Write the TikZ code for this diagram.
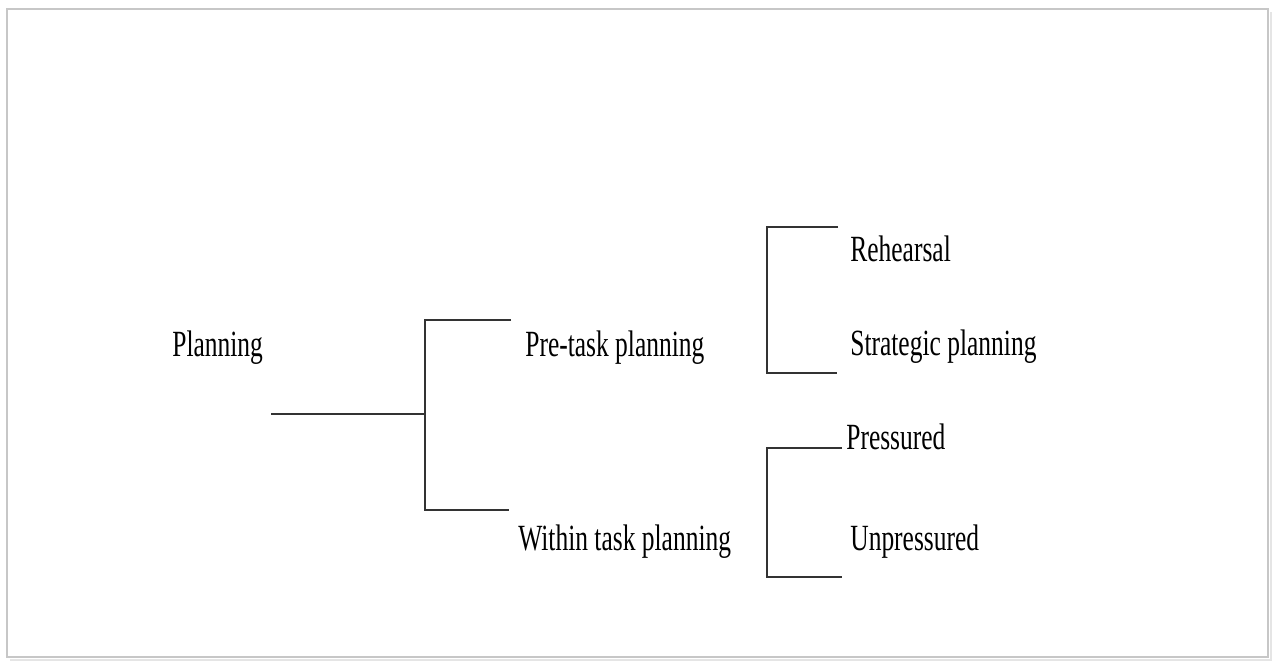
\documentclass[tikz,border=0pt]{standalone}
\usepackage{fontspec}
\setmainfont{Liberation Serif}
\usepackage{tikz}
\usetikzlibrary{positioning}
\tikzset{
  lbl/.style={anchor=base west, inner sep=0pt, font=\fontsize{14.5}{16}\selectfont, yscale=1.45, transform shape},
  branch/.style={line width=1.4pt, draw=black!80}
}
\newcommand{\fork}[4]{\draw[branch] (#1) -- (#1-|#2) -- (#3-|#2) -- (#3) node[coordinate] (#4) {}}

\begin{document}
\begin{tikzpicture}
    \useasboundingbox (0,0) rectangle (25.46,-13.22);
    \draw [draw=black!22, line width=1.6pt] (0.14,-0.18) rectangle (25.36,-13.14);
    \draw [draw=black!10, line width=1.2pt] (0.2,-13.2) -- (25.42,-13.2) -- (25.42,-0.24);
    % labels
    \node[lbl] (plan) at (3.44,-7.12) {Planning};
    \node[lbl] (pre) at (10.5,-7.12) {Pre-task planning};
    \node[lbl] (within) at (10.36,-11.0) {Within task planning};
    \node[lbl] (reh) at (17.0,-5.22) {Rehearsal};
    \node[lbl] (strat) at (17.0,-7.1) {Strategic planning};
    \node[lbl] (press) at (16.92,-8.98) {Pressured};
    \node[lbl] (unpress) at (17.0,-11.0) {Unpressured};
    % bracket ends
    \coordinate (root) at (5.42,-8.28);
    \coordinate (fork1) at (8.5,-8.28);
    \coordinate (preend) at (10.22,-6.4);
    \coordinate (withinend) at (10.18,-10.2);
    \coordinate (rehend) at (16.76,-4.54);
    \coordinate (stratend) at (16.74,-7.46);
    \coordinate (pressend) at (16.84,-8.96);
    \coordinate (unpressend) at (16.84,-11.54);
    \draw[branch] (root) -- (fork1);
    \fork{preend}{fork1}{withinend}{f1};
    \coordinate (fork2) at (15.34,-6);
    \fork{rehend}{fork2}{stratend}{f2};
    \fork{pressend}{fork2}{unpressend}{f3};
\end{tikzpicture}
\end{document}
